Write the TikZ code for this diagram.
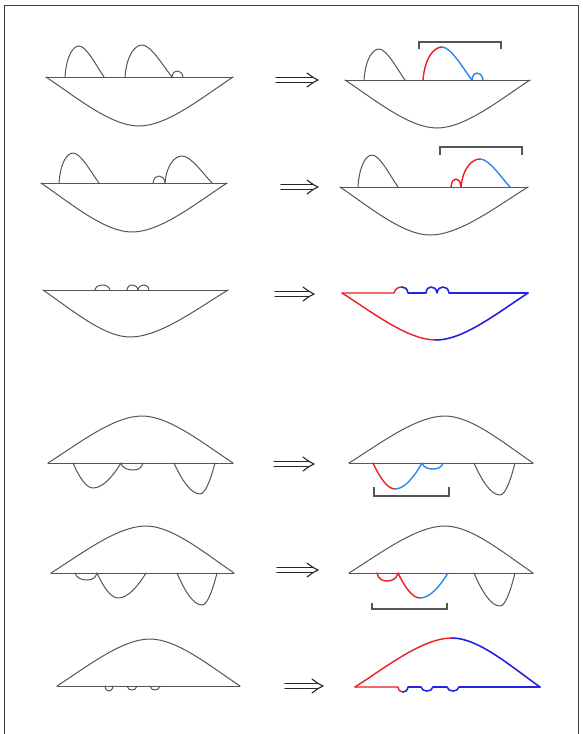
\documentclass[tikz,border=0pt]{standalone}
\definecolor{myred}{RGB}{235,30,35}
\definecolor{mylblue}{RGB}{45,135,240}
\definecolor{mydblue}{RGB}{35,35,225}
\definecolor{mygray}{RGB}{85,85,85}
% rounded small bump halves: a,p,yb,ypk  and  p,b,yb,ypk
\newcommand{\hL}[4]{(#1,#3) .. controls ({#1+0.12*(#2-#1)},{#3+0.75*(#4-#3)}) and ({#2-0.45*(#2-#1)},{#4}) .. (#2,#4)}
\newcommand{\hR}[4]{(#1,#4) .. controls ({#1+0.45*(#2-#1)},{#4}) and ({#2-0.12*(#2-#1)},{#3+0.75*(#4-#3)}) .. (#2,#3)}
% V-like bump halves (straighter sides, rounded tip)
\newcommand{\vL}[4]{(#1,#3) .. controls ({#1+0.3*(#2-#1)},{#3+0.55*(#4-#3)}) and ({#2-0.35*(#2-#1)},{#4}) .. (#2,#4)}
\newcommand{\vR}[4]{(#1,#4) .. controls ({#1+0.35*(#2-#1)},{#4}) and ({#2-0.3*(#2-#1)},{#3+0.55*(#4-#3)}) .. (#2,#3)}
% tall hump halves (steep left rise, straight right descent)
\newcommand{\tL}[4]{(#1,#3) .. controls ({#1+0.1*(#2-#1)},{#3+0.7*(#4-#3)}) and ({#2-0.4*(#2-#1)},{#4}) .. (#2,#4)}
\newcommand{\tR}[4]{(#1,#4) .. controls ({#1+0.3*(#2-#1)},{#4}) and ({#2-0.3*(#2-#1)},{#3+0.35*(#4-#3)}) .. (#2,#3)}
% bowl / dome halves: xL,xm,yb,yext  and  xm,xR,yb,yext
\newcommand{\bL}[4]{(#1,#3) .. controls ({#1+0.33*(#2-#1)},{#3+0.42*(#4-#3)}) and ({#2-0.3*(#2-#1)},{#4}) .. (#2,#4)}
\newcommand{\bR}[4]{(#1,#4) .. controls ({#1+0.3*(#2-#1)},{#4}) and ({#2-0.33*(#2-#1)},{#3+0.42*(#4-#3)}) .. (#2,#3)}
% implication arrow between two named coordinates
\newcommand{\implarrow}[2]{%
  \draw[arrl] ([yshift=2.2pt]#1) -- ([yshift=2.2pt,xshift=-5pt]#2);
  \draw[arrl] ([yshift=-2.2pt]#1) -- ([yshift=-2.2pt,xshift=-5pt]#2);
  \draw[arrl] ([xshift=-11pt,yshift=7pt]#2) .. controls ([xshift=-5pt,yshift=2.5pt]#2) .. (#2)
     .. controls ([xshift=-5pt,yshift=-2.5pt]#2) .. ([xshift=-11pt,yshift=-7pt]#2);}
\tikzset{
  gl/.style={draw=mygray,line width=1pt,line join=round,line cap=round},
  rl/.style={draw=myred,line width=1.4pt,line join=round,line cap=round},
  bl/.style={draw=mylblue,line width=1.4pt,line join=round,line cap=round},
  dbl/.style={draw=mydblue,line width=1.6pt,line join=round,line cap=round},
  brk/.style={draw=mygray,line width=1.2pt},
  arrl/.style={draw=black!85,line width=1.1pt,line cap=round},
  frame/.style={draw=black!75,line width=1pt}
}
\begin{document}
\begin{tikzpicture}[x=1pt,y=-1pt]
\useasboundingbox (0,0) rectangle (582,734);
\fill[white] (0,0) rectangle (582,734);
\draw[frame] (4,740) -- (4,5) -- (578,5) -- (578,740);

% ---------- Row 1 ----------
\draw[gl] (46,77) -- (233,77);
\draw[gl] \bL{46}{139}{77}{126} \bR{139}{233}{77}{126};
\draw[gl] \tL{65}{79}{77}{46} \tR{79}{104}{77}{46};
\draw[gl] \tL{125}{142}{77}{45} \tR{142}{172}{77}{45};
\draw[gl] \hL{172}{177}{77}{71} \hR{177}{183}{77}{71};
\coordinate (a1s) at (276,80); \coordinate (a1e) at (318,80);
\implarrow{a1s}{a1e}
\draw[gl] (345,80) -- (530,80);
\draw[gl] \bL{345}{437}{80}{128} \bR{437}{530}{80}{128};
\draw[gl] \tL{364}{379}{80}{49} \tR{379}{405}{80}{49};
\draw[rl] \tL{423}{442}{80}{47};
\draw[bl] \tR{442}{472}{80}{47} \hL{472}{477}{80}{73} \hR{477}{483}{80}{73};
\draw[brk] (419,49) -- (419,42) -- (501,42) -- (501,49);

% ---------- Row 2 ----------
\draw[gl] (41,183) -- (227,183);
\draw[gl] \bL{41}{132}{183}{232} \bR{132}{227}{183}{232};
\draw[gl] \tL{59}{73}{183}{153} \tR{73}{99}{183}{153};
\draw[gl] \hL{153}{159}{183}{176} \hR{159}{165}{183}{176};
\draw[gl] \tL{165}{182}{183}{156} \tR{182}{212}{183}{156};
\coordinate (a2s) at (281,187); \coordinate (a2e) at (318,187);
\implarrow{a2s}{a2e}
\draw[gl] (340,187) -- (528,187);
\draw[gl] \bL{340}{430}{187}{235} \bR{430}{528}{187}{235};
\draw[gl] \tL{358}{372}{187}{155} \tR{372}{398}{187}{155};
\draw[rl] \hL{451}{456}{187}{179} \hR{456}{461}{187}{179} \tL{461}{480}{187}{159};
\draw[bl] \tR{480}{510}{187}{159};
\draw[brk] (440,155) -- (440,147) -- (522,147) -- (522,155);

% ---------- Row 3 ----------
\draw[gl] (43,290) -- (228,290);
\draw[gl] \bL{43}{130}{290}{337} \bR{130}{228}{290}{337};
\draw[gl] \hL{95}{102}{290}{285} \hR{102}{110}{290}{285};
\draw[gl] \hL{127}{132}{290}{285} \hR{132}{138}{290}{285};
\draw[gl] \hL{138}{144}{290}{285} \hR{144}{149}{290}{285};
\coordinate (a3s) at (275,294); \coordinate (a3e) at (314,294);
\implarrow{a3s}{a3e}
\draw[rl] (342,293) -- (394,293) \hL{394}{402}{293}{287};
\draw[rl] \bL{342}{436}{293}{340};
\draw[dbl] \hR{402}{408}{293}{287} -- (426,293) \hL{426}{431}{293}{287} \hR{431}{437}{293}{287}
  \hL{437}{443}{293}{287} \hR{443}{449}{293}{287} -- (528,293);
\draw[dbl] \bR{436}{528}{293}{340};

% ---------- Row 4 ----------
\draw[gl] (48,463) -- (233,463);
\draw[gl] \bL{48}{142}{463}{416} \bR{142}{233}{463}{416};
\draw[gl] \vL{73}{93}{463}{488} \vR{93}{121}{463}{488};
\draw[gl] \hL{121}{133}{463}{470} \hR{133}{143}{463}{470};
\draw[gl] \vL{174}{200}{463}{494} \vR{200}{215}{463}{494};
\coordinate (a4s) at (274,464); \coordinate (a4e) at (314,464);
\implarrow{a4s}{a4e}
\draw[gl] (349,463) -- (533,463);
\draw[gl] \bL{349}{445}{463}{416} \bR{445}{533}{463}{416};
\draw[rl] \vL{373}{395}{463}{489};
\draw[bl] \vR{395}{422}{463}{489} \hL{422}{433}{463}{469} \hR{433}{443}{463}{469};
\draw[gl] \vL{474}{500}{463}{495} \vR{500}{515}{463}{495};
\draw[brk] (374,487) -- (374,496) -- (449,496) -- (449,487);

% ---------- Row 5 ----------
\draw[gl] (51,573) -- (234,573);
\draw[gl] \bL{51}{146}{573}{526} \bR{146}{234}{573}{526};
\draw[gl] \hL{75}{87}{573}{580} \hR{87}{97}{573}{580};
\draw[gl] \vL{97}{118}{573}{598} \vR{118}{146}{573}{598};
\draw[gl] \vL{177}{202}{573}{605} \vR{202}{217}{573}{605};
\coordinate (a5s) at (277,570); \coordinate (a5e) at (318,570);
\implarrow{a5s}{a5e}
\draw[gl] (349,573) -- (533,573);
\draw[gl] \bL{349}{445}{573}{526} \bR{445}{533}{573}{526};
\draw[rl] \hL{377}{387}{573}{581} \hR{387}{398}{573}{581} \vL{398}{420}{573}{598};
\draw[bl] \vR{420}{448}{573}{598};
\draw[gl] \vL{474}{500}{573}{606} \vR{500}{515}{573}{606};
\draw[brk] (372,603) -- (372,609) -- (447,609) -- (447,603);

% ---------- Row 6 ----------
\draw[gl] (57,686) -- (240,686);
\draw[gl] \bL{57}{150}{686}{639} \bR{150}{240}{686}{639};
\draw[gl] \hL{105}{109}{686}{691} \hR{109}{113}{686}{691};
\draw[gl] \hL{127}{132}{686}{690} \hR{132}{137}{686}{690};
\draw[gl] \hL{150}{155}{686}{690} \hR{155}{160}{686}{690};
\coordinate (a6s) at (285,686); \coordinate (a6e) at (323,686);
\implarrow{a6s}{a6e}
\draw[rl] (355,687) -- (398,687) \hL{398}{403}{687}{692};
\draw[rl] \bL{355}{452}{687}{638};
\draw[dbl] \hR{403}{408}{687}{692} -- (421,687) \hL{421}{427}{687}{691} \hR{427}{433}{687}{691}
  -- (447,687) \hL{447}{453}{687}{691} \hR{453}{459}{687}{691} -- (540,687);
\draw[dbl] \bR{452}{540}{687}{638};
\end{tikzpicture}
\end{document}
